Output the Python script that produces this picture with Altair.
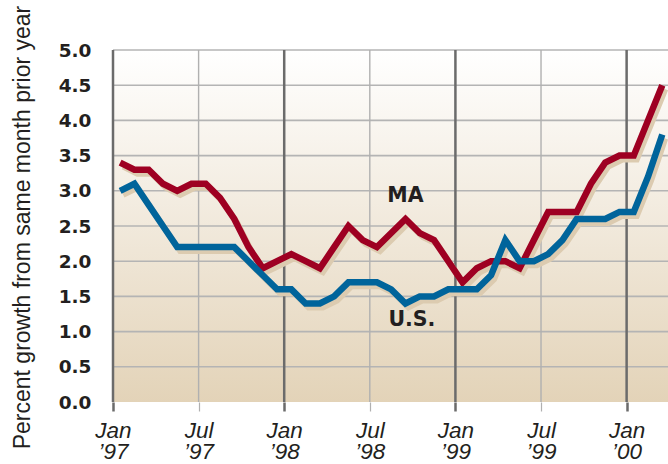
import json
import altair as alt
import pandas as pd

# Monthly growth (percent, vs same month prior year), Jan 1997 .. Mar 2000
ma_values = [3.4, 3.3, 3.3, 3.1, 3.0, 3.1, 3.1, 2.9, 2.6, 2.2, 1.9, 2.0,
             2.1, 2.0, 1.9, 2.2, 2.5, 2.3, 2.2, 2.4, 2.6, 2.4, 2.3, 2.0,
             1.7, 1.9, 2.0, 2.0, 1.9, 2.3, 2.7, 2.7, 2.7, 3.1, 3.4, 3.5,
             3.5, 4.0, 4.5]
us_values = [3.0, 3.1, 2.8, 2.5, 2.2, 2.2, 2.2, 2.2, 2.2, 2.0, 1.8, 1.6,
             1.6, 1.4, 1.4, 1.5, 1.7, 1.7, 1.7, 1.6, 1.4, 1.5, 1.5, 1.6,
             1.6, 1.6, 1.8, 2.3, 2.0, 2.0, 2.1, 2.3, 2.6, 2.6, 2.6, 2.7,
             2.7, 3.2, 3.8]

tick_months = [0, 6, 12, 18, 24, 30, 36]
tick_names = ["Jan", "Jul", "Jan", "Jul", "Jan", "Jul", "Jan"]
tick_years = ["’97", "’97", "’98", "’98", "’99", "’99", "’00"]
tick_kind = ["Jan", "Jul", "Jan", "Jul", "Jan", "Jul", "Jan"]
y_ticks = [0.0, 0.5, 1.0, 1.5, 2.0, 2.5, 3.0, 3.5, 4.0, 4.5, 5.0]
y_grid = [0.5, 1.0, 1.5, 2.0, 2.5, 3.0, 3.5, 4.0, 4.5, 5.0]
label_text = ["MA", "U.S."]
label_x = [20.5, 20.95]
label_y = [2.93, 1.16]

X_MAX = 38.9

rows = []
for i, v in enumerate(ma_values):
    rows.append({"x": i + 0.5, "y": v, "s": "MA"})
for i, v in enumerate(us_values):
    rows.append({"x": i + 0.5, "y": v, "s": "U.S."})
lines_df = pd.DataFrame(rows)

xs = alt.Scale(domain=[0, X_MAX], nice=False, zero=False)
ys = alt.Scale(domain=[0, 5], nice=False)

label_expr = "[{n}[indexof({t}, datum.value)], {y}[indexof({t}, datum.value)]]".format(
    n=json.dumps(tick_names, ensure_ascii=False),
    y=json.dumps(tick_years, ensure_ascii=False),
    t=json.dumps(tick_months),
)

narrow = "Liberation Sans Narrow, Arial Narrow, Liberation Sans, Arial"

xaxis = alt.Axis(
    values=tick_months, labelExpr=label_expr, grid=False, domain=False,
    tickSize=9,
    tickColor={"condition": {"test": "datum.value % 12 === 0", "value": "#6b6b6b"}, "value": "#b0b0b0"},
    tickWidth={"condition": {"test": "datum.value % 12 === 0", "value": 2.5}, "value": 1.2},
    labelFont=narrow, labelFontStyle="italic", labelFontSize=22.5, labelColor="#231f20",
    labelLineHeight=21, labelPadding=8, labelFlush=False, labelOverlap=False,
    labelAngle=0, title=None,
)
yaxis = alt.Axis(
    values=y_ticks, format=".1f", grid=False, domain=False, ticks=False,
    labelFont="DejaVu Sans", labelFontWeight="bold", labelFontSize=18.5,
    labelColor="#231f20", labelPadding=22,
    title="Percent growth from same month prior year",
    titleFont="Liberation Sans, Arial", titleFontWeight="normal", titleFontSize=23,
    titleColor="#231f20", titleX=-91, titleY=177, titleBaseline="middle",
    titleAlign="center", titleAngle=-90,
)

X = alt.X("x:Q", scale=xs, axis=xaxis)
Y = alt.Y("y:Q", scale=ys, axis=yaxis)

bg = alt.Chart(pd.DataFrame({"x": [0], "x2": [X_MAX], "y": [0], "y2": [5]})).mark_rect(
    color=alt.Gradient(
        gradient="linear",
        stops=[alt.GradientStop(color="#ffffff", offset=0),
               alt.GradientStop(color="#e3d3b8", offset=1)],
        x1=0, x2=0, y1=0, y2=1,
    )
).encode(x=X, x2="x2:Q", y=Y, y2="y2:Q")

hgrid = alt.Chart(pd.DataFrame({"y": y_grid})).mark_rule(
    color="#b4b4b4", strokeWidth=1.6
).encode(y=Y)

vgrid = alt.Chart(pd.DataFrame({"x": tick_months, "k": tick_kind})).mark_rule().encode(
    x=X,
    color=alt.Color("k:N", scale=alt.Scale(domain=["Jan", "Jul"], range=["#6b6b6b", "#b0b0b0"]), legend=None),
    strokeWidth=alt.StrokeWidth("k:N", scale=alt.Scale(domain=["Jan", "Jul"], range=[2.5, 1.4]), legend=None),
)

shadow = alt.Chart(lines_df).mark_line(
    strokeWidth=6, color="#dccbb0", xOffset=3, yOffset=4
).encode(x=X, y=Y, detail="s:N")

main = alt.Chart(lines_df).mark_line(strokeWidth=6.5).encode(
    x=X, y=Y,
    stroke=alt.Stroke("s:N", scale=alt.Scale(domain=["MA", "U.S."], range=["#9e0022", "#00649b"]), legend=None),
)

texts = alt.Chart(pd.DataFrame({"x": label_x, "y": label_y, "t": label_text})).mark_text(
    font="DejaVu Sans", fontWeight="bold", fontSize=20.5, color="#231f20",
    align="center", baseline="middle"
).encode(x=X, y=Y, text="t:N")

chart = alt.layer(bg, hgrid, vgrid, shadow, main, texts).resolve_scale(
    color="independent", strokeWidth="independent"
).properties(
    width=555, height=352,
    autosize=alt.AutoSizeParams(type="none"),
    padding={"left": 113, "top": 50, "right": 0, "bottom": 62},
).configure_view(stroke=None)

chart.save("out.html", embed_options={"renderer": "svg", "actions": False})
